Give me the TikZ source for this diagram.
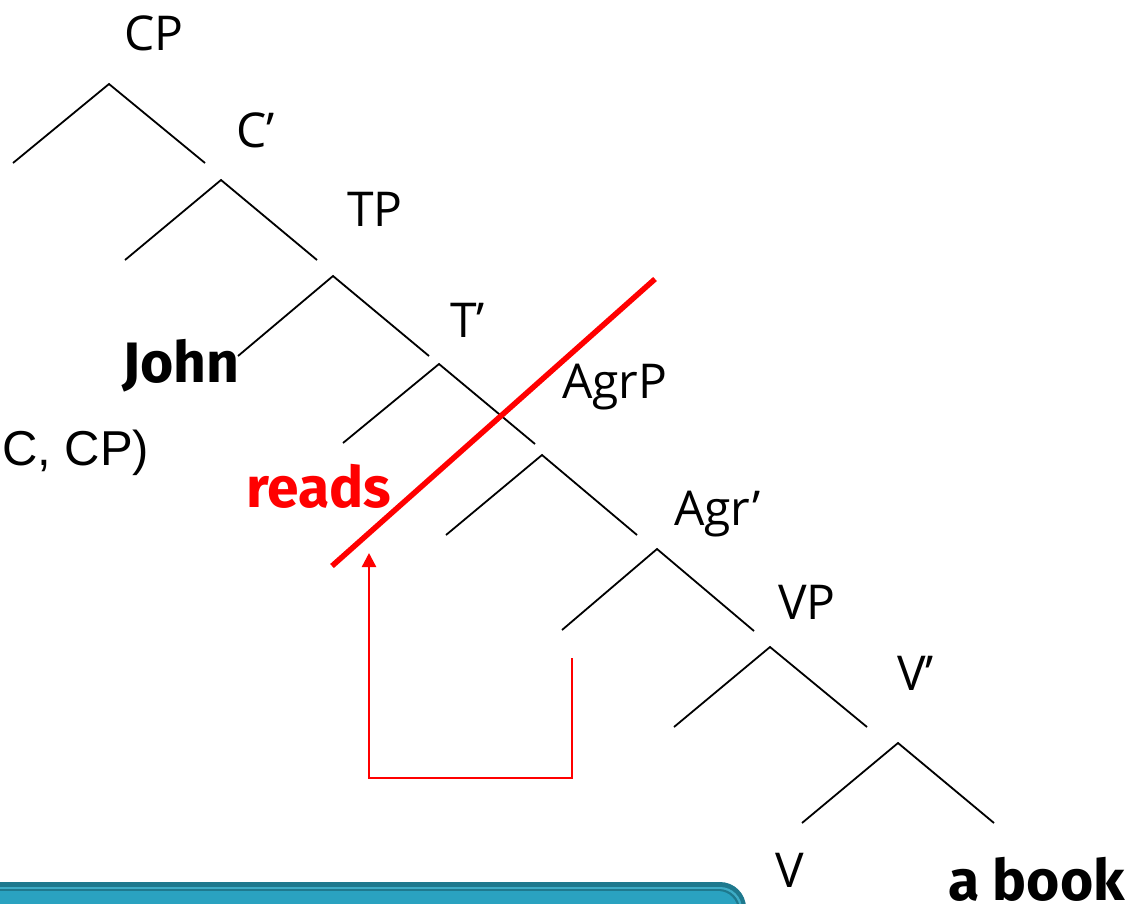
\documentclass[tikz,border=0pt]{standalone}
\usepackage{fontspec}
\setmainfont{Open Sans}
\newfontfamily\boldfam{Fira Sans}
\newfontfamily\arialfam{Liberation Sans}
\usetikzlibrary{arrows.meta}
\definecolor{tealdark}{RGB}{30,121,142}
\definecolor{teallight}{RGB}{62,172,198}
\definecolor{tealfill}{RGB}{42,162,192}
\definecolor{redline}{RGB}{255,0,0}
\tikzset{
  branch/.style={draw=black,line width=1.8pt},
  lab/.style={inner sep=0pt,anchor=base west,font=\fontsize{48}{52}\selectfont},
  boldlab/.style={inner sep=0pt,anchor=base west,font=\boldfam\bfseries\fontsize{57}{60}\selectfont},
  movearrow/.style={draw=redline,line width=2.4pt},
}
\begin{document}
\begin{tikzpicture}[x=1pt,y=-1pt]
\useasboundingbox (0,0) rectangle (1129,903);
\begin{scope}
\clip (0,0) rectangle (1129,903);
% teal bar
\fill[tealdark,rounded corners=26pt] (-30,882) rectangle (746,960);
\fill[teallight,rounded corners=22pt] (-30,887) rectangle (742,960);
\fill[tealdark,rounded corners=21pt] (-30,889) rectangle (740,960);
\fill[tealfill,rounded corners=20pt] (-30,891) rectangle (738,960);
\end{scope}

% tree apexes and feet
\coordinate (a1) at (109,84);  \coordinate (l1) at (13,163);  \coordinate (r1) at (205,163);
\coordinate (a2) at (221,180); \coordinate (l2) at (125,260); \coordinate (r2) at (317,260);
\coordinate (a3) at (333,276); \coordinate (l3) at (238,356); \coordinate (r3) at (429,356);
\coordinate (a4) at (439,364); \coordinate (l4) at (343,443); \coordinate (r4) at (535,444);
\coordinate (a5) at (542,455); \coordinate (l5) at (446,535); \coordinate (r5) at (637,535);
\coordinate (a6) at (657,549); \coordinate (l6) at (562,630); \coordinate (r6) at (754,631);
\coordinate (a7) at (770,647); \coordinate (l7) at (674,727); \coordinate (r7) at (867,727);
\coordinate (a8) at (898,743); \coordinate (l8) at (802,823); \coordinate (r8) at (994,823);

\foreach \i in {1,...,8}{
  \draw[branch] (l\i) -- (a\i) -- (r\i);
}

% labels
\node[lab] (cp) at (124,50) {CP};
\node[lab] (cbar) at (236,147) {C’};
\node[lab] (tp) at (347,226) {TP};
\node[lab] (tbar) at (450,337) {T’};
\node[lab] (agrp) at (562,398) {AgrP};
\node[lab] (agrbar) at (674,525) {Agr’};
\node[lab] (vp) at (778,619) {VP};
\node[lab] (vbar) at (897,690) {V’};
\node[lab] (v) at (775,887) {V};
\node[boldlab] (book) at (948,900) {a book};
\node[boldlab] (john) at (122,382) {John};
\node[boldlab,text=redline] (reads) at (246,507) {reads};
\node[inner sep=0pt,anchor=base west,font=\arialfam\fontsize{49}{52}\selectfont] (ccp) at (2,465) {C, CP)};

% red barrier line
\coordinate (rl1) at (332,566);
\coordinate (rl2) at (655,279);
\draw[draw=redline,line width=5.5pt] (rl1) -- (rl2);

% movement arrow
\coordinate (m0) at (572,658);
\coordinate (m1) at (572,778);
\coordinate (m2) at (369,778);
\coordinate (m3) at (369,553);
\draw[movearrow,-{Triangle[width=14pt,length=14pt]}] (m0) -- (m1) -- (m2) -- (m3);
\end{tikzpicture}
\end{document}
